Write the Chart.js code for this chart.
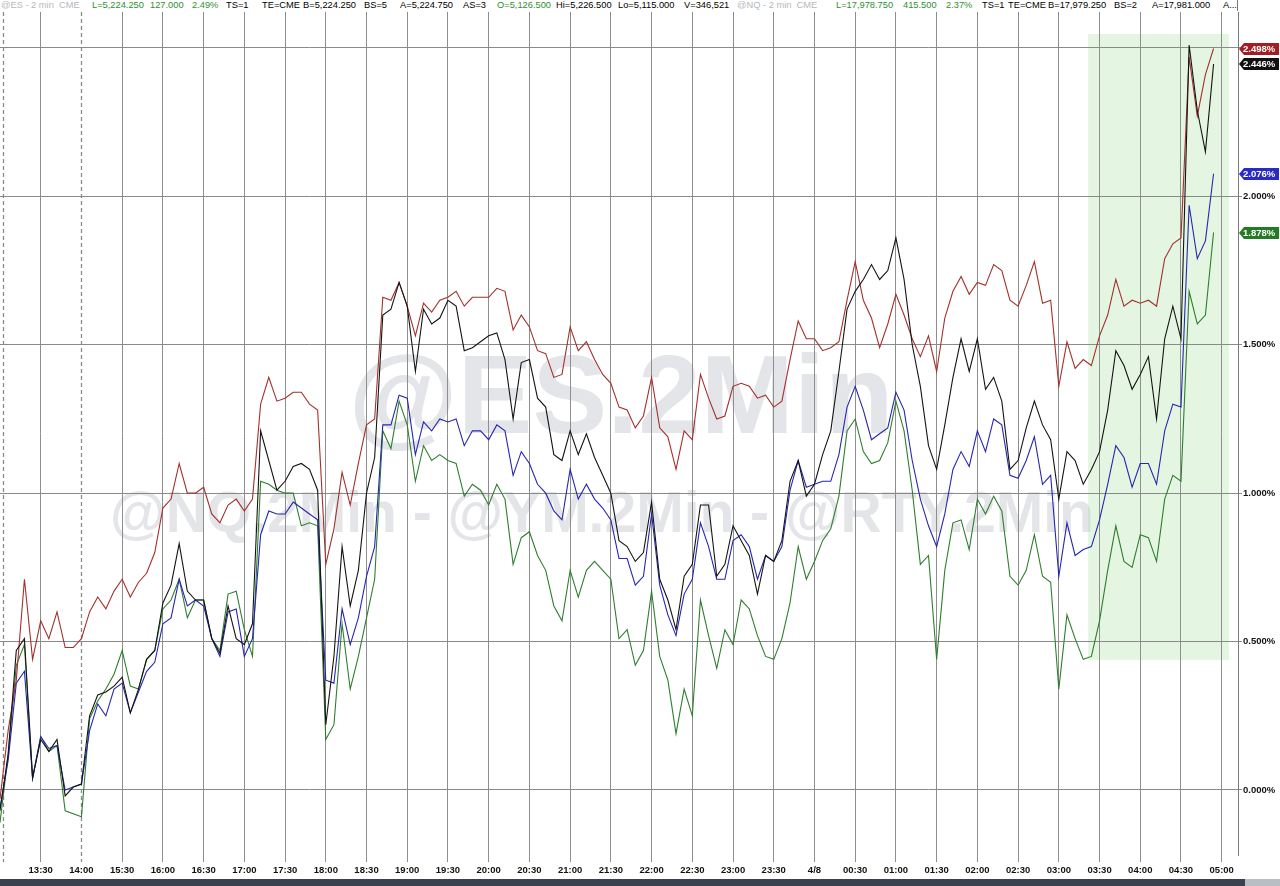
<!DOCTYPE html>
<html><head><meta charset="utf-8">
<script src="https://cdn.jsdelivr.net/npm/chart.js@4.4.1/dist/chart.umd.min.js"></script>
<style>
html,body{margin:0;padding:0;background:#fff;overflow:hidden}
#wrap{position:relative;width:1280px;height:886px;background:#fff}
#c{position:absolute;left:0;top:0}
#hdr{position:absolute;left:0;top:0;width:1237px;height:11px;background:#fff;font:9.3px "Liberation Sans",Arial,sans-serif;white-space:nowrap;border-right:1px solid #777}
#hdr span{position:absolute;top:-1px;line-height:12px}
.g{color:#b4b8bd}.gr{color:#2e8f2e}.k{color:#000}
#bar{position:absolute;left:0;top:879px;width:1245px;height:7px;background:#3a4250}
#bar2{position:absolute;left:1245px;top:879px;width:35px;height:7px;background:#b9bdc4}
</style></head>
<body><div id="wrap">
<canvas id="c" width="1280" height="879"></canvas>
<div id="hdr">
<span class="g" style="left:1px">@ES - 2 min&nbsp; CME</span>
<span class="gr" style="left:92px">L=5,224.250</span>
<span class="gr" style="left:150px">127.000</span>
<span class="gr" style="left:192px">2.49%</span>
<span class="k" style="left:226px">TS=1</span>
<span class="k" style="left:262px">TE=CME</span>
<span class="k" style="left:303px">B=5,224.250</span>
<span class="k" style="left:364px">BS=5</span>
<span class="k" style="left:400px">A=5,224.750</span>
<span class="k" style="left:463px">AS=3</span>
<span class="gr" style="left:497px">O=5,126.500</span>
<span class="k" style="left:556px">Hi=5,226.500</span>
<span class="k" style="left:618px">Lo=5,115.000</span>
<span class="k" style="left:684px">V=346,521</span>
<span class="g" style="left:737px">@NQ - 2 min&nbsp; CME</span>
<span class="gr" style="left:836px">L=17,978.750</span>
<span class="gr" style="left:903px">415.500</span>
<span class="gr" style="left:946px">2.37%</span>
<span class="k" style="left:982px">TS=1</span>
<span class="k" style="left:1008px">TE=CME</span>
<span class="k" style="left:1048px">B=17,979.250</span>
<span class="k" style="left:1114px">BS=2</span>
<span class="k" style="left:1152px">A=17,981.000</span>
<span class="k" style="left:1223px">A...</span>
</div>
<div id="bar"></div><div id="bar2"></div>
</div>
<script>
// ---- categories (6-minute steps; session break after 14:00, resumes 15:00) ----
function buildTimes(){
  const out=[];
  const add=(h,m,n)=>{const t=h*60+m;for(let k=0;k<n;k++){const tt=(t+6*k)%1440;
    out.push(String(Math.floor(tt/60)).padStart(2,'0')+':'+String(tt%60).padStart(2,'0'));}};
  add(13,0,11); add(15,6,142);
  return out;
}
const times = buildTimes();
const tickLabels = ['13:30','14:00','15:30','16:00','16:30','17:00','17:30','18:00','18:30','19:00','19:30','20:00','20:30','21:00','21:30','22:00','22:30','23:00','23:30','00:00','00:30','01:00','01:30','02:00','02:30','03:00','03:30','04:00','04:30','05:00'];
const tickDisplay = {'00:00':'4/8'};
const yTicks = [0,0.5,1.0,1.5,2.0,2.5];

// ---- series values (% change) ----
const redSeries = [
-0.03,0.20,0.37,0.71,0.44,0.57,0.51,0.60,0.48,0.48,
0.51,0.60,0.65,0.61,0.67,0.71,0.65,0.70,0.73,0.80,
0.95,0.98,1.10,1.00,1.00,1.02,0.93,0.90,0.96,0.98,
0.94,0.98,1.30,1.39,1.31,1.32,1.34,1.34,1.30,1.28,
0.76,0.88,1.07,0.96,1.10,1.23,1.25,1.66,1.65,1.71,
1.63,1.53,1.64,1.61,1.65,1.66,1.68,1.63,1.66,1.66,
1.66,1.69,1.68,1.55,1.60,1.56,1.48,1.47,1.39,1.40,
1.56,1.48,1.51,1.45,1.40,1.37,1.29,1.28,1.22,1.26,
1.39,1.22,1.19,1.08,1.21,1.18,1.40,1.32,1.25,1.26,
1.36,1.37,1.36,1.32,1.33,1.29,1.31,1.45,1.58,1.52,
1.52,1.48,1.49,1.51,1.65,1.78,1.65,1.59,1.49,1.57,
1.67,1.60,1.52,1.46,1.53,1.41,1.59,1.68,1.73,1.67,
1.71,1.70,1.77,1.75,1.65,1.63,1.70,1.78,1.64,1.65,
1.36,1.51,1.42,1.45,1.43,1.53,1.60,1.72,1.63,1.65,
1.64,1.65,1.63,1.79,1.84,1.86,2.47,2.27,2.41,2.498];
const blackSeries = [
-0.07,0.12,0.47,0.51,0.04,0.17,0.13,0.17,-0.02,0.01,
0.02,0.25,0.32,0.33,0.35,0.38,0.26,0.34,0.44,0.47,
0.63,0.69,0.83,0.67,0.64,0.64,0.51,0.46,0.62,0.51,
0.49,0.56,1.21,1.11,1.01,1.04,1.09,1.10,1.08,1.01,
0.22,0.45,0.82,0.62,0.74,1.00,1.12,1.60,1.62,1.71,
1.63,1.41,1.62,1.57,1.59,1.65,1.63,1.48,1.49,1.51,
1.53,1.54,1.45,1.25,1.44,1.45,1.32,1.29,1.13,1.11,
1.21,1.13,1.20,1.12,1.06,1.00,0.84,0.82,0.77,0.80,
0.97,0.71,0.64,0.54,0.72,0.76,0.96,0.96,0.72,0.76,
0.89,0.84,0.79,0.66,0.79,0.77,0.84,1.04,1.11,0.99,
1.03,1.13,1.21,1.41,1.62,1.68,1.72,1.77,1.72,1.75,
1.86,1.72,1.50,1.36,1.16,1.08,1.23,1.39,1.52,1.41,
1.52,1.35,1.39,1.31,1.08,1.11,1.22,1.31,1.23,1.18,
0.98,1.14,1.11,1.03,1.08,1.14,1.28,1.48,1.43,1.35,
1.40,1.46,1.25,1.52,1.63,1.52,2.51,2.29,2.15,2.446];
const blueSeries = [
-0.06,0.10,0.36,0.40,0.04,0.18,0.14,0.15,0.00,0.01,
0.02,0.20,0.29,0.25,0.34,0.36,0.26,0.33,0.40,0.43,
0.56,0.58,0.71,0.62,0.64,0.62,0.51,0.45,0.60,0.61,
0.45,0.51,0.86,0.94,0.93,0.93,0.97,0.95,0.93,0.91,
0.37,0.36,0.61,0.49,0.58,0.72,0.82,1.23,1.23,1.33,
1.32,1.13,1.24,1.21,1.25,1.24,1.25,1.16,1.21,1.21,
1.18,1.23,1.21,1.06,1.14,1.10,1.03,1.00,0.94,0.91,
1.08,0.98,1.03,0.98,0.95,0.91,0.78,0.78,0.69,0.72,
0.93,0.69,0.59,0.52,0.66,0.71,0.90,0.82,0.71,0.71,
0.84,0.86,0.82,0.71,0.79,0.77,0.82,1.01,1.11,1.02,
1.03,1.04,1.04,1.13,1.29,1.36,1.28,1.18,1.20,1.22,
1.34,1.28,1.11,0.98,0.89,0.82,0.93,1.08,1.14,1.09,
1.21,1.14,1.25,1.23,1.06,1.05,1.11,1.19,1.03,1.06,
0.72,0.90,0.79,0.81,0.82,0.91,1.03,1.16,1.12,1.02,
1.10,1.10,1.03,1.21,1.30,1.29,1.97,1.79,1.85,2.076];
const greenSeries = [
-0.11,0.12,0.42,0.49,0.04,0.18,0.13,0.15,-0.07,-0.08,
-0.09,0.24,0.30,0.34,0.39,0.47,0.35,0.34,0.44,0.47,
0.61,0.64,0.71,0.58,0.64,0.64,0.51,0.47,0.66,0.67,
0.54,0.45,1.04,1.03,1.01,1.00,1.00,0.89,0.90,0.89,
0.17,0.22,0.56,0.34,0.45,0.58,0.71,1.21,1.15,1.31,
1.23,1.04,1.16,1.11,1.13,1.11,1.10,0.99,1.03,1.01,
0.96,1.03,0.98,0.76,0.85,0.87,0.79,0.74,0.62,0.57,
0.74,0.65,0.74,0.77,0.74,0.71,0.51,0.54,0.42,0.47,
0.67,0.45,0.37,0.19,0.34,0.25,0.64,0.52,0.41,0.54,
0.49,0.64,0.61,0.52,0.45,0.44,0.51,0.63,0.82,0.71,
0.77,0.84,0.88,0.99,1.21,1.25,1.14,1.10,1.11,1.17,
1.31,1.21,1.01,0.76,0.79,0.44,0.74,0.90,0.91,0.81,
0.98,0.93,0.99,0.94,0.72,0.69,0.74,0.86,0.72,0.70,
0.34,0.59,0.51,0.44,0.45,0.57,0.74,0.89,0.77,0.75,
0.86,0.85,0.77,0.98,1.06,1.04,1.68,1.57,1.60,1.878];

// ---- styling / annotations ----
const COLORS = {red:'#a3302b', black:'#141414', blue:'#2626b0', green:'#2e7e2e'};
const BOX_COLORS = {red:'#a31d24', black:'#111111', blue:'#2a2ac4', green:'#257a25'};
const highlight = {x0:133.6, x1:150.9, y0:0.438, y1:2.547};
const sessionBreaks = [0.4, 10];
const YMIN = -0.219, YMAX = 2.621;
const FONT = '"Liberation Sans", Arial, sans-serif';

const bgPlugin = {
  id:'bg',
  beforeDraw(chart){
    const {ctx, scales:{x,y}} = chart;
    ctx.save();
    ctx.fillStyle = '#e3e5e9';
    ctx.textAlign = 'center'; ctx.textBaseline = 'alphabetic';
    ctx.font = 'bold 112px ' + FONT;
    ctx.fillText('@ES.2Min', 621, 433);
    ctx.font = 'bold 57px ' + FONT;
    ctx.fillText('@NQ.2Min - @YM.2Min - @RTY.2Min', 602, 532);
    const px0 = x.getPixelForValue(highlight.x0), px1 = x.getPixelForValue(highlight.x1);
    const py0 = y.getPixelForValue(highlight.y1), py1 = y.getPixelForValue(highlight.y0);
    ctx.fillStyle = 'rgba(150,215,140,0.26)';
    ctx.fillRect(px0, py0, px1-px0, py1-py0);
    ctx.restore();
  },
  beforeDatasetsDraw(chart){
    const {ctx, chartArea, scales:{x}} = chart;
    ctx.save();
    ctx.strokeStyle = '#8a8a8a'; ctx.lineWidth = 1.3; ctx.setLineDash([4,3]);
    sessionBreaks.forEach(v=>{
      const px = Math.round(x.getPixelForValue(v))+0.5;
      ctx.beginPath(); ctx.moveTo(px, chartArea.top); ctx.lineTo(px, chartArea.bottom+7); ctx.stroke();
    });
    ctx.restore();
  },
  afterDraw(chart){
    const {ctx, chartArea, scales:{y}} = chart;
    const items = [
      ['green', greenSeries], ['blue', blueSeries], ['black', blackSeries], ['red', redSeries]
    ];
    ctx.save();
    ctx.font = 'bold 9.5px ' + FONT;
    ctx.textBaseline = 'middle'; ctx.textAlign = 'left';
    items.forEach(([k, arr])=>{
      const v = arr[arr.length-1];
      const py = Math.round(y.getPixelForValue(v));
      const x0 = chartArea.right + 1;
      ctx.fillStyle = BOX_COLORS[k];
      ctx.beginPath();
      ctx.moveTo(x0, py);
      ctx.lineTo(x0+5, py-6);
      ctx.lineTo(1279, py-6);
      ctx.lineTo(1279, py+6);
      ctx.lineTo(x0+5, py+6);
      ctx.closePath(); ctx.fill();
      ctx.fillStyle = '#fff';
      ctx.fillText(v.toFixed(3)+'%', x0+4, py+0.5);
    });
    ctx.restore();
  }
};

const isTick = (i)=> tickLabels.includes(times[i]);

new Chart(document.getElementById('c').getContext('2d'), {
  type:'line',
  data:{
    labels: times,
    datasets:[
      {label:'black', data:blackSeries, borderColor:COLORS.black},
      {label:'red', data:redSeries, borderColor:COLORS.red},
      {label:'blue', data:blueSeries, borderColor:COLORS.blue},
      {label:'green', data:greenSeries, borderColor:COLORS.green}
    ]
  },
  options:{
    responsive:false, animation:false, devicePixelRatio:1,
    layout:{padding:{top:12,left:0,right:0,bottom:0}},
    plugins:{legend:{display:false}, tooltip:{enabled:false}},
    elements:{point:{radius:0}, line:{tension:0, borderWidth:1.1, fill:false}},
    scales:{
      x:{
        type:'category', offset:false,
        border:{display:false},
        grid:{
          color:(c)=> (c.tick && isTick(c.tick.value) && c.tick.value!==10) ? '#8e8e8e' : 'rgba(0,0,0,0)',
          lineWidth:1, tickLength:7, drawOnChartArea:true
        },
        ticks:{
          autoSkip:false, maxRotation:0, minRotation:0, padding:3,
          color:'#111', font:{family:FONT, size:9.5, weight:'bold'},
          callback:(v,i)=>{ const t = times[v]; return isTick(v) ? (tickDisplay[t]||t) : null; }
        },
        afterFit:(s)=>{ s.height = 24; }
      },
      y:{
        position:'right', min:YMIN, max:YMAX,
        afterBuildTicks:(s)=>{ s.ticks = yTicks.map(v=>({value:v})); },
        border:{display:true, color:'#7a7a7a'},
        grid:{color:'#8a8a8a', lineWidth:1, tickLength:4},
        ticks:{padding:1, color:'#111', font:{family:FONT, size:9.5, weight:'bold'},
          callback:(v)=> Number(v).toFixed(3)+'%'},
        afterFit:(s)=>{ s.width = 42; }
      }
    }
  },
  plugins:[bgPlugin]
});
</script>
</body></html>
